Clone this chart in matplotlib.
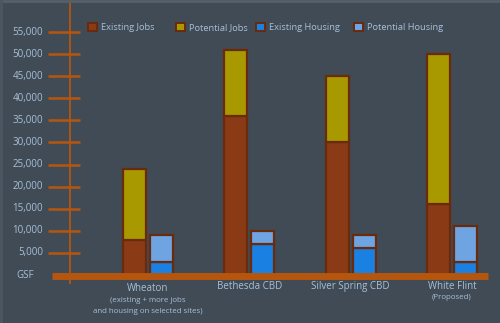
import matplotlib.pyplot as plt
from matplotlib.patches import Patch
from matplotlib.lines import Line2D
import numpy as np

plt.rcParams['font.family'] = ['Open Sans', 'DejaVu Sans']

sites = ["Wheaton", "Bethesda CBD", "Silver Spring CBD", "White Flint"]
notes = ["(existing + more jobs\nand housing on selected sites)", "", "", "(Proposed)"]
existing_jobs = [8000, 36000, 30000, 16000]
potential_jobs = [16000, 15000, 15000, 34000]
existing_housing = [3000, 7000, 6000, 3000]
potential_housing = [6000, 3000, 3000, 8000]
yticks = [5000, 10000, 15000, 20000, 25000, 30000, 35000, 40000, 45000, 50000, 55000]

bg = '#414b56'
txt = '#a6c0d8'
orange = '#b5560f'
edge = '#6a2a0c'
c_ej = '#8a3a15'
c_pj = '#a89900'
c_eh = '#1a80e2'
c_ph = '#6ea4e2'

fig = plt.figure(figsize=(5, 3.23), dpi=100, facecolor=bg)
ax = fig.add_axes([0, 0, 1, 1])
ax.set_facecolor(bg)
ax.set_xlim(-1.4605, 3.4737)
ax.set_ylim(-10865, 62245)
ax.axis('off')

# light frame at top/left edges
fig.add_artist(Line2D([0, 1], [0.997, 0.997], color='#56606b', lw=2, transform=fig.transFigure))
fig.add_artist(Line2D([0.002, 0.002], [0, 1], color='#4d5762', lw=2, transform=fig.transFigure))

x = np.arange(len(sites))
w = 0.225
off = 0.133
kw = dict(width=w, edgecolor=edge, linewidth=1.6, zorder=3)
ax.bar(x - off, existing_jobs, color=c_ej, **kw)
ax.bar(x - off, potential_jobs, bottom=existing_jobs, color=c_pj, **kw)
ax.bar(x + off, existing_housing, color=c_eh, **kw)
ax.bar(x + off, potential_housing, bottom=existing_housing, color=c_ph, **kw)

# axis decorations
ax.hlines(-250, -0.947, 3.355, color=orange, lw=5, zorder=4)
ax.axvline(-0.770, ymin=0.124, ymax=1, color=orange, lw=1.3, zorder=2)
ax.hlines(yticks, -0.987, -0.671, color=orange, lw=1.8, zorder=2)
for t in yticks:
    ax.text(-1.036, t, f"{t:,}", ha='right', va='center', color=txt, fontsize=7)
ax.text(-1.214, -150, "GSF", ha='center', va='center', color=txt, fontsize=7)

label_y = [-3150, -2700, -2700, -2700]
note_top = [-5000, 0, 0, -4400]
for i, (s, n) in enumerate(zip(sites, notes)):
    ax.text(x[i], label_y[i], s, ha='center', va='center', color=txt, fontsize=7)
    if n:
        ax.text(x[i], note_top[i], n, ha='center', va='top', color=txt, fontsize=5.7,
                linespacing=1.75)

handles = [Patch(facecolor=c, edgecolor=edge, linewidth=1.4)
           for c in (c_ej, c_pj, c_eh, c_ph)]
labels = ["Existing Jobs", "Potential Jobs", "Existing Housing", "Potential Housing"]
leg_x = [88, 176, 256, 354]
for h, l, lx in zip(handles, labels, leg_x):
    leg = fig.legend([h], [l], loc='center left', bbox_to_anchor=(lx / 500, 0.915),
                     frameon=False, fontsize=6.7, handlelength=1.0, handleheight=1.0,
                     handletextpad=0.45, borderpad=0, borderaxespad=0)
    for t in leg.get_texts():
        t.set_color(txt)

fig.savefig('out.png', dpi=100, facecolor=bg)
